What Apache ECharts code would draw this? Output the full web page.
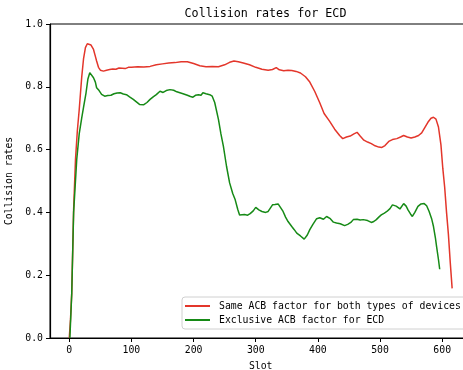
<!DOCTYPE html>
<html>
<head>
<meta charset="utf-8">
<script src="https://cdn.jsdelivr.net/npm/echarts@6/dist/echarts.min.js"></script>
<style>html,body{margin:0;padding:0;background:#fff;overflow:hidden}#c{width:472px;height:370px}</style>
</head>
<body>
<div id="c"></div>
<script>
const titleText = 'Collision rates for ECD';
const xAxisName = 'Slot';
const yAxisName = 'Collision rates';
const seriesNames = ['Same ACB factor for both types of devices', 'Exclusive ACB factor for ECD'];
const xTicks = [0, 100, 200, 300, 400, 500, 600];
const yTicks = [0, 0.2, 0.4, 0.6, 0.8, 1.0];

const redSlots = [0,2,4,7,10,13,16,20,23,26,29,32,35,39,42,44,47,50,55,60,65,70,75,80,85,90,95,100,110,120,130,140,150,160,170,180,190,200,210,220,230,240,250,258,265,272,280,290,300,310,320,327,333,338,345,352,358,365,372,380,387,395,403,410,419,427,435,440,446,452,458,463,468,474,480,486,492,498,503,508,514,520,527,533,538,544,550,556,562,567,572,577,582,586,590,594,598,601,604,607,610,613,616];
const redRates = [0.0,0.06,0.143,0.408,0.568,0.66,0.727,0.83,0.89,0.925,0.937,0.938,0.933,0.919,0.897,0.882,0.862,0.853,0.850,0.853,0.855,0.857,0.856,0.860,0.859,0.858,0.862,0.862,0.864,0.863,0.865,0.870,0.873,0.876,0.877,0.880,0.880,0.874,0.867,0.864,0.865,0.864,0.870,0.878,0.882,0.880,0.876,0.870,0.862,0.856,0.853,0.855,0.861,0.854,0.851,0.853,0.852,0.849,0.844,0.832,0.815,0.785,0.749,0.715,0.690,0.665,0.645,0.635,0.640,0.643,0.650,0.655,0.643,0.630,0.624,0.619,0.612,0.608,0.607,0.613,0.626,0.632,0.635,0.640,0.645,0.640,0.637,0.640,0.645,0.653,0.670,0.687,0.700,0.703,0.697,0.672,0.615,0.54,0.48,0.40,0.33,0.24,0.158];

const greenSlots = [1,4,7,12,16,20,23,27,30,33,36,39,42,44,48,52,57,62,67,72,77,82,87,92,97,103,108,113,116,120,125,130,135,140,146,151,156,162,168,173,178,183,190,195,199,203,208,212,215,220,226,230,234,240,244,248,253,258,263,267,271,274,277,282,287,291,296,300,305,310,316,320,323,327,331,336,340,344,348,352,358,362,366,372,378,383,387,392,398,403,409,414,420,425,430,436,443,448,453,457,463,468,473,480,486,490,494,498,502,507,511,516,520,526,532,538,542,545,549,552,556,561,566,571,575,579,583,586,589,591,594,596];
const greenRates = [0.0,0.143,0.40,0.568,0.65,0.70,0.735,0.781,0.825,0.845,0.840,0.829,0.815,0.797,0.788,0.776,0.770,0.772,0.773,0.778,0.780,0.781,0.777,0.775,0.768,0.760,0.752,0.744,0.740,0.743,0.750,0.760,0.768,0.775,0.786,0.782,0.788,0.791,0.789,0.784,0.781,0.778,0.773,0.769,0.767,0.773,0.775,0.773,0.781,0.778,0.775,0.770,0.750,0.696,0.65,0.610,0.547,0.494,0.46,0.440,0.41,0.392,0.389,0.393,0.391,0.396,0.405,0.416,0.408,0.403,0.400,0.403,0.406,0.424,0.425,0.427,0.415,0.403,0.385,0.371,0.355,0.345,0.334,0.325,0.315,0.328,0.345,0.362,0.380,0.383,0.378,0.387,0.380,0.369,0.366,0.364,0.358,0.362,0.368,0.377,0.378,0.376,0.377,0.374,0.368,0.371,0.377,0.385,0.392,0.398,0.403,0.412,0.424,0.420,0.411,0.428,0.420,0.408,0.395,0.387,0.400,0.419,0.427,0.428,0.421,0.403,0.380,0.355,0.320,0.291,0.250,0.219];

const FONT = 'DejaVu Sans Mono';
const zip = (xs, ys) => xs.map((x, i) => [x, ys[i]]);

const chart = echarts.init(document.getElementById('c'), null, {renderer: 'canvas'});
chart.setOption({
  animation: false,
  backgroundColor: '#fff',
  title: {
    text: titleText,
    left: 260.5,
    textAlign: 'center',
    top: 3,
    textStyle: {fontFamily: FONT, fontSize: 11.7, fontWeight: 'normal', color: '#000'}
  },
  grid: {left: 50, right: 0.6, top: 24, bottom: 32, outerBoundsMode: 'none', containLabel: false, show: true, borderColor: '#000', borderWidth: 1, backgroundColor: 'transparent'},
  legend: {
    orient: 'vertical',
    left: 182,
    top: 297,
    padding: [4, 30, 4, 3],
    itemGap: 4,
    itemWidth: 25,
    itemHeight: 2,
    icon: 'rect',
    backgroundColor: '#fff',
    borderColor: '#d0d0d0',
    borderWidth: 1,
    borderRadius: 3,
    textStyle: {fontFamily: FONT, fontSize: 9.8, color: '#000', padding: [0, 0, 0, 4]},
    data: seriesNames
  },
  xAxis: {
    type: 'value',
    min: -31,
    max: 647,
    name: xAxisName,
    nameLocation: 'middle',
    nameGap: 23,
    nameTextStyle: {fontFamily: FONT, fontSize: 9.8, color: '#000'},
    splitLine: {show: false},
    axisLine: {show: true, onZero: false, lineStyle: {color: '#000', width: 1}},
    axisTick: {show: true, inside: false, length: 4, lineStyle: {color: '#000'}, customValues: xTicks},
    axisLabel: {fontFamily: FONT, fontSize: 9.8, color: '#000', margin: 7, customValues: xTicks}
  },
  yAxis: {
    type: 'value',
    position: 'left',
    min: 0,
    max: 1,
    interval: 0.2,
    name: yAxisName,
    nameLocation: 'middle',
    nameGap: 30,
    nameTextStyle: {fontFamily: FONT, fontSize: 9.8, color: '#000'},
    splitLine: {show: false},
    axisLine: {show: true, onZero: false, lineStyle: {color: '#000', width: 1.2}},
    axisTick: {show: true, inside: false, length: 4, lineStyle: {color: '#000'}, customValues: yTicks},
    axisLabel: {fontFamily: FONT, fontSize: 9.8, color: '#000', margin: 7, customValues: yTicks, formatter: v => v.toFixed(1)}
  },
  series: [
    {name: seriesNames[0], type: 'line', data: zip(redSlots, redRates), showSymbol: false, symbol: 'none', lineStyle: {color: '#e3362b', width: 1.5}, itemStyle: {color: '#e3362b'}},
    {name: seriesNames[1], type: 'line', data: zip(greenSlots, greenRates), showSymbol: false, symbol: 'none', lineStyle: {color: '#168a16', width: 1.5}, itemStyle: {color: '#168a16'}}
  ]
});
</script>
</body>
</html>
